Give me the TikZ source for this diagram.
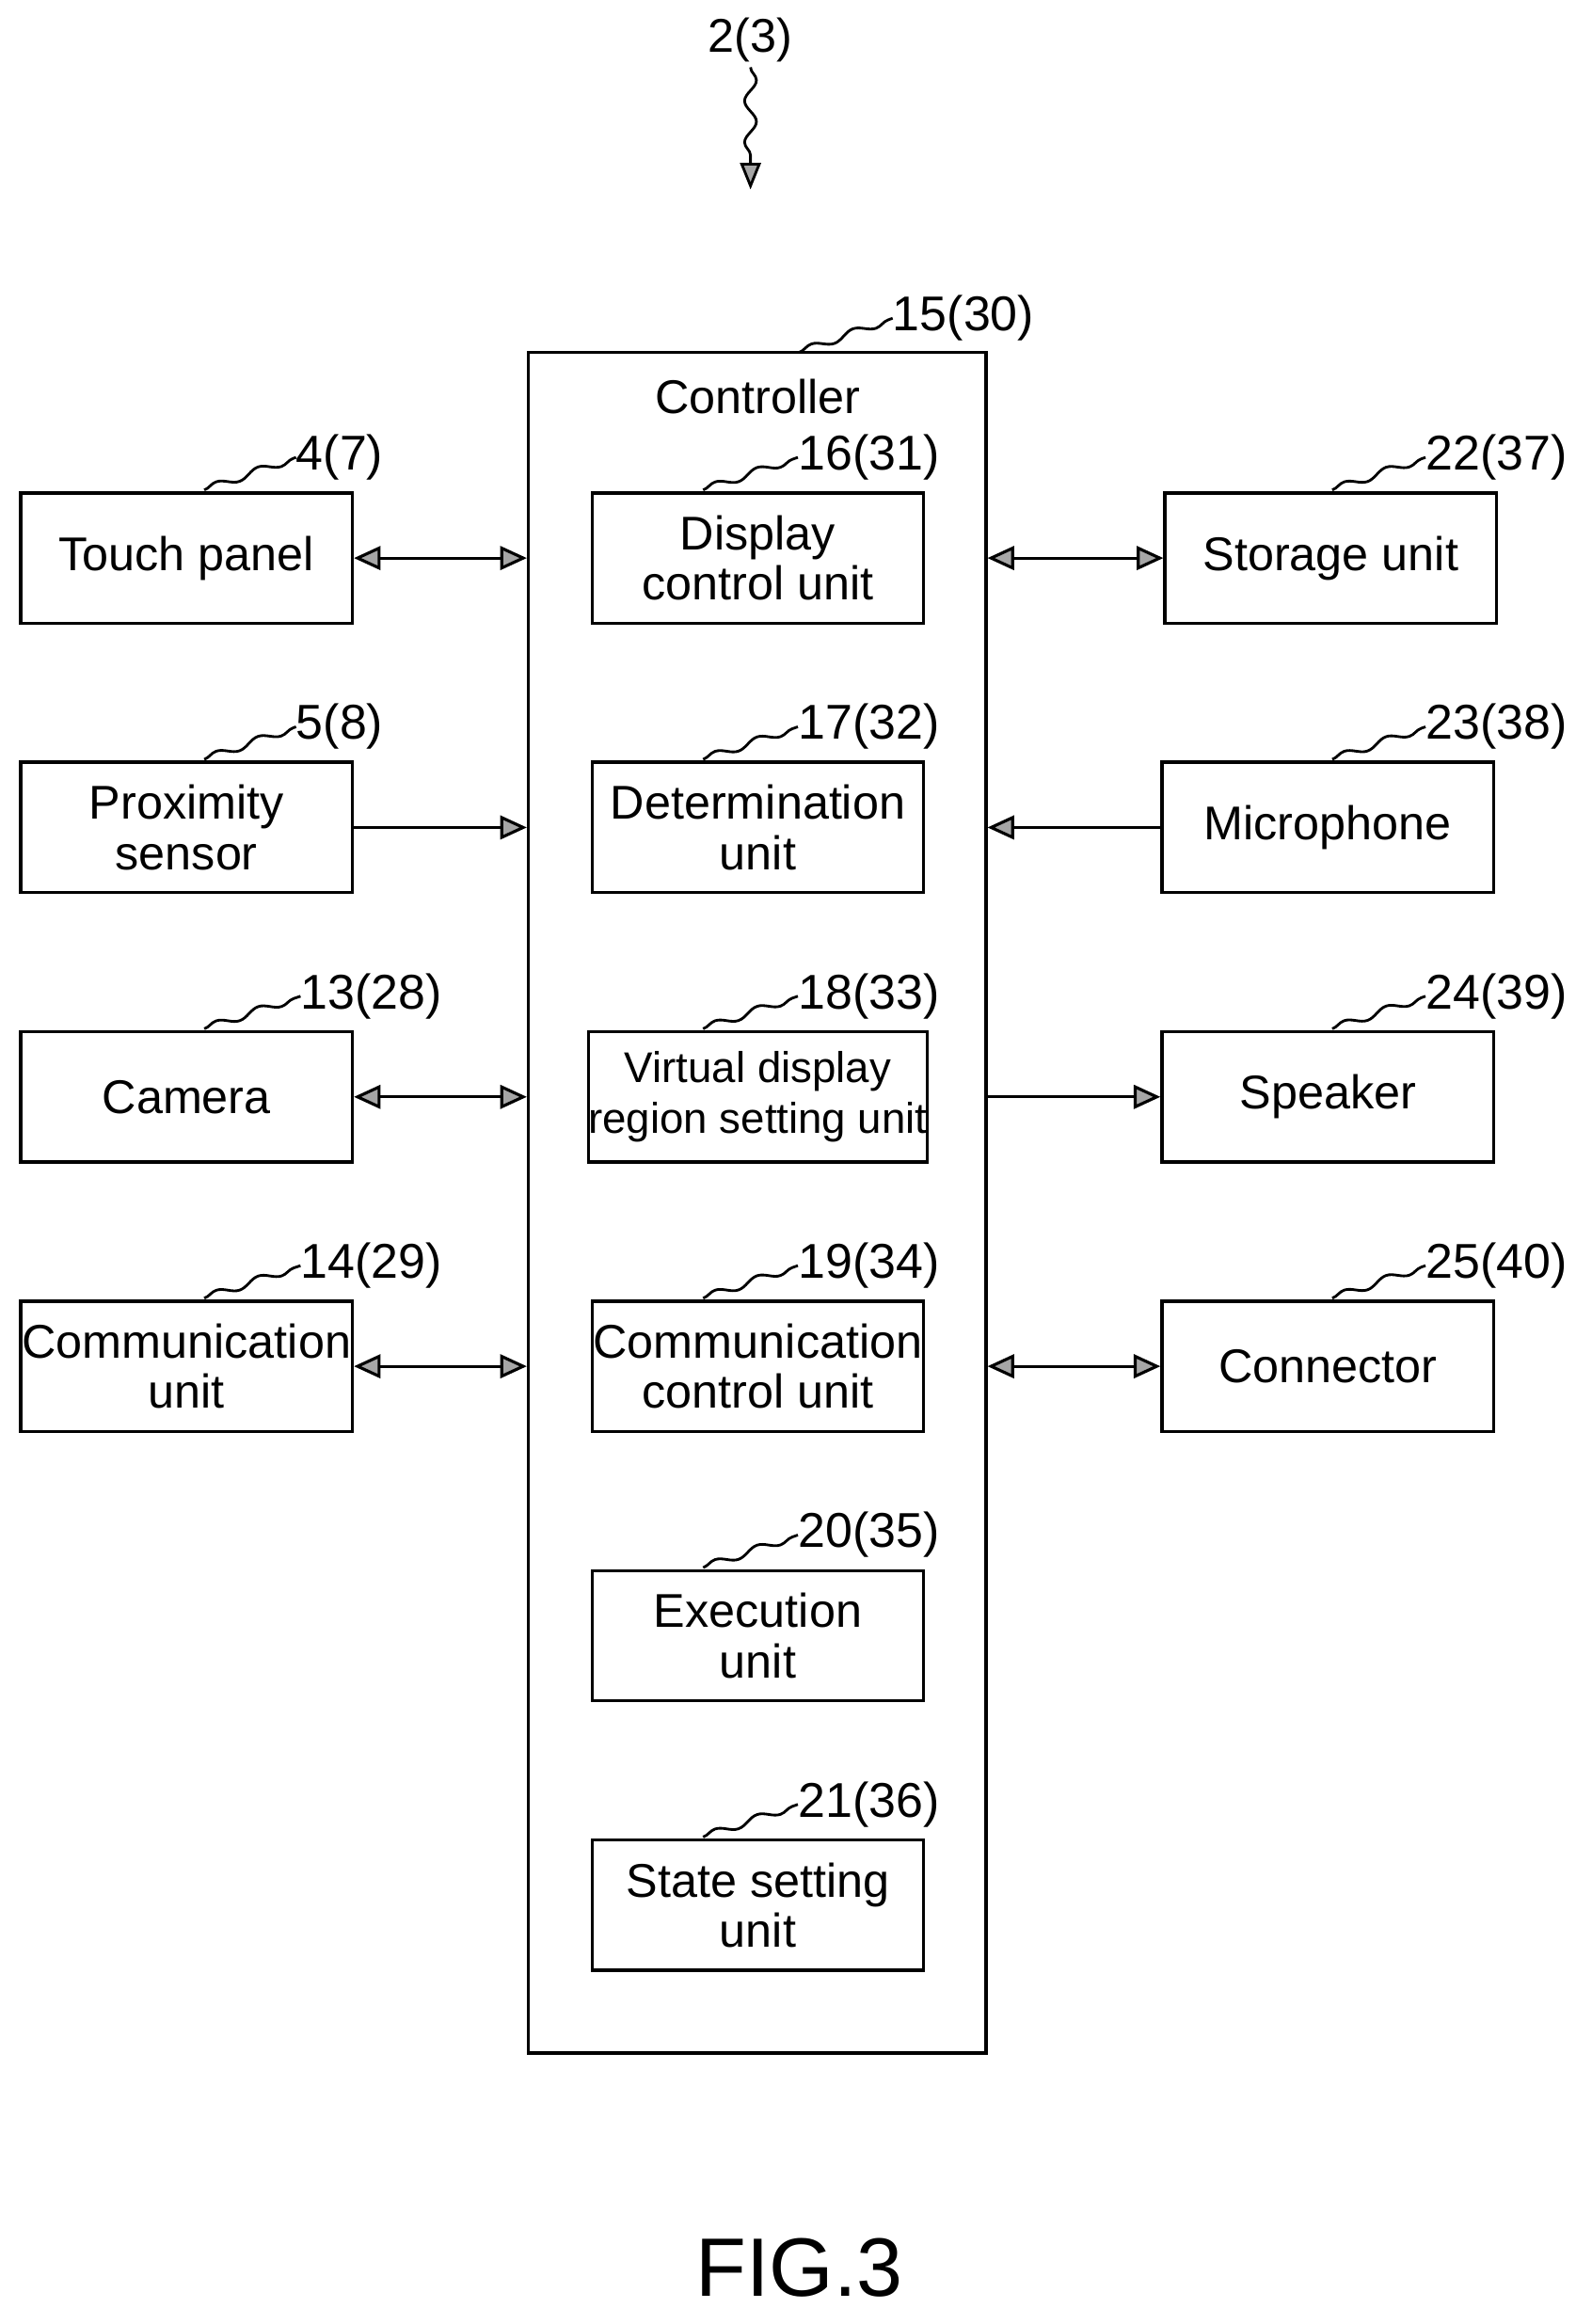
\documentclass[tikz,border=0pt]{standalone}
\usepackage{fontspec}
\setmainfont{Liberation Sans}
\usetikzlibrary{arrows.meta,decorations.pathmorphing}
\begin{document}
\begin{tikzpicture}[x=1pt,y=-1pt,
 box/.style={draw,line width=2.2pt,minimum width=224pt,minimum height=88pt,inner sep=0pt,align=center,font=\fontsize{32}{34}\selectfont},
 lab/.style={anchor=west,inner sep=0pt,font=\fontsize{33}{33}\selectfont},
 sq/.style={line width=1.8pt,decorate,decoration={snake,amplitude=2.5pt,segment length=30pt}},
 ar/.style={line width=2pt,-{Triangle[length=18pt,width=16pt,fill=gray!70]}},
 dar/.style={line width=2pt,{Triangle[length=18pt,width=16pt,fill=gray!70]}-{Triangle[length=18pt,width=16pt,fill=gray!70]}}]
\useasboundingbox (0,0) rectangle (1075,1570);
\newcommand{\bx}[4]{% name, left, top, text
 \node[box] (#1) at (#2+112,#3+44) {#4};}
\newcommand{\lb}[5]{% name, squiggle x, label x, top, text
 \coordinate (#1a) at (#2,#4-2);
 \node[lab] (#1l) at (#3,#4-24) {#5};
 \draw[sq] (#1a) -- (#1l.west);}
% title
\node[font=\fontsize{32}{32}\selectfont] (title) at (507,27) {2(3)};
\coordinate (tt) at (507,128);
\draw[line width=1.8pt,decorate,decoration={snake,amplitude=4pt,segment length=28pt,post length=16pt},-{Triangle[length=18pt,width=14pt,fill=gray!70]}] (title.south) -- (tt);
% controller
\node[draw,line width=2.2pt,minimum width=309pt,minimum height=1149pt,inner sep=0pt] (ctl) at (511.5,812.5) {};
\node[font=\fontsize{32}{34}\selectfont] (ctlt) at (512,268) {Controller};
\coordinate (ctla) at (540,238);
\node[lab] (ctll) at (603,215) {15(30)};
\draw[sq] (ctla) -- (ctll.west);
% left
\bx{tp}{14}{333}{Touch panel}\lb{tp}{138}{200}{333}{4(7)}
\bx{ps}{14}{515}{Proximity\\sensor}\lb{ps}{138}{200}{515}{5(8)}
\bx{cam}{14}{697}{Camera}\lb{cam}{138}{203}{697}{13(28)}
\bx{cu}{14}{879}{Communication\\unit}\lb{cu}{138}{203}{879}{14(29)}
% inner
\bx{dc}{400}{333}{Display\\control unit}\lb{dc}{475}{539}{333}{16(31)}
\bx{det}{400}{515}{Determination\\unit}\lb{det}{475}{539}{515}{17(32)}
\bx{vd}{400}{697}{\fontsize{29}{33}\selectfont Virtual display\\\fontsize{29}{33}\selectfont region setting unit}\lb{vd}{475}{539}{697}{18(33)}
\bx{ccu}{400}{879}{Communication\\control unit}\lb{ccu}{475}{539}{879}{19(34)}
\bx{ex}{400}{1061}{Execution\\unit}\lb{ex}{475}{539}{1061}{20(35)}
\bx{ss}{400}{1243}{State setting\\unit}\lb{ss}{475}{539}{1243}{21(36)}
% right
\bx{st}{787}{333}{Storage unit}\lb{st}{900}{963}{333}{22(37)}
\bx{mic}{785}{515}{Microphone}\lb{mic}{900}{963}{515}{23(38)}
\bx{spk}{785}{697}{Speaker}\lb{spk}{900}{963}{697}{24(39)}
\bx{con}{785}{879}{Connector}\lb{con}{900}{963}{879}{25(40)}
% connectors
\draw[dar] (tp.east) -- (tp.east -| ctl.west);
\draw[ar] (ps.east) -- (ps.east -| ctl.west);
\draw[dar] (cam.east) -- (cam.east -| ctl.west);
\draw[dar] (cu.east) -- (cu.east -| ctl.west);
\draw[dar] (st.west -| ctl.east) -- (st.west);
\draw[ar] (mic.west) -- (mic.west -| ctl.east);
\draw[ar] (spk.west -| ctl.east) -- (spk.west);
\draw[dar] (con.west -| ctl.east) -- (con.west);
\node[font=\fontsize{56}{56}\selectfont] (fig) at (540,1532) {FIG.3};
\end{tikzpicture}
\end{document}
